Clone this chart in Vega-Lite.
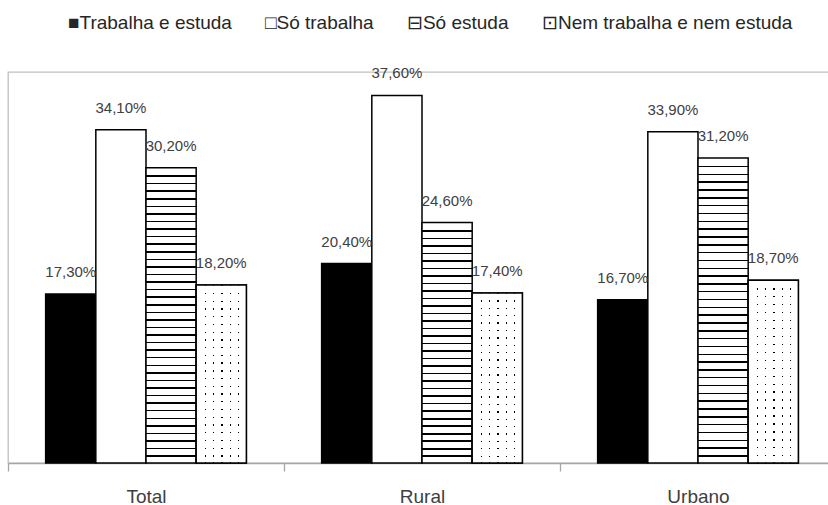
{
  "$schema": "https://vega.github.io/schema/vega-lite/v6.json",
  "width": 828,
  "height": 391,
  "autosize": "none",
  "padding": {"left": 8, "top": 72, "right": 0, "bottom": 42},
  "background": "white",
  "config": {
    "font": "Liberation Sans, DejaVu Sans",
    "view": {"stroke": "#c0c0c0", "strokeWidth": 1.3}
  },
  "data": {
    "values": [
      {"c": "Total", "s": "Trabalha e estuda", "v": 17.3, "t": "17,30%"},
      {"c": "Total", "s": "Só trabalha", "v": 34.1, "t": "34,10%"},
      {"c": "Total", "s": "Só estuda", "v": 30.2, "t": "30,20%"},
      {"c": "Total", "s": "Nem trabalha e nem estuda", "v": 18.2, "t": "18,20%"},
      {"c": "Rural", "s": "Trabalha e estuda", "v": 20.4, "t": "20,40%"},
      {"c": "Rural", "s": "Só trabalha", "v": 37.6, "t": "37,60%"},
      {"c": "Rural", "s": "Só estuda", "v": 24.6, "t": "24,60%"},
      {"c": "Rural", "s": "Nem trabalha e nem estuda", "v": 17.4, "t": "17,40%"},
      {"c": "Urbano", "s": "Trabalha e estuda", "v": 16.7, "t": "16,70%"},
      {"c": "Urbano", "s": "Só trabalha", "v": 33.9, "t": "33,90%"},
      {"c": "Urbano", "s": "Só estuda", "v": 31.2, "t": "31,20%"},
      {"c": "Urbano", "s": "Nem trabalha e nem estuda", "v": 18.7, "t": "18,70%"}
    ]
  },
  "encoding": {
    "x": {
      "field": "c", "type": "nominal", "sort": ["Total", "Rural", "Urbano"],
      "scale": {"paddingInner": 0, "paddingOuter": 0},
      "axis": {
        "title": null, "labelAngle": 0, "tickBand": "extent",
        "domainColor": "#a6a6a6", "domainWidth": 1.3, "tickColor": "#a6a6a6", "tickWidth": 1.3, "tickSize": 8,
        "labelFontSize": 19, "labelColor": "#404040", "labelPadding": 16
      }
    },
    "xOffset": {
      "field": "s", "type": "nominal",
      "sort": ["Trabalha e estuda", "Só trabalha", "Só estuda", "Nem trabalha e nem estuda"],
      "scale": {"domain": ["Trabalha e estuda", "Só trabalha", "Só estuda", "Nem trabalha e nem estuda"], "paddingInner": 0, "paddingOuter": 0.75}
    },
    "y": {"field": "v", "type": "quantitative", "scale": {"domain": [0, 40]}, "axis": null}
  },
  "layer": [
    {
      "mark": {"type": "bar", "stroke": "#000", "strokeWidth": 1.5},
      "encoding": {
        "fill": {
          "field": "s", "type": "nominal",
          "scale": {"domain": ["Trabalha e estuda", "Só trabalha", "Só estuda", "Nem trabalha e nem estuda"], "range": ["#000000", "#ffffff", "#ffffff", "#ffffff"]},
          "legend": {
            "orient": "none", "legendX": 41, "legendY": -59, "direction": "horizontal", "title": null,
            "symbolSize": 0, "symbolStrokeWidth": 0, "symbolOpacity": 0, "labelOffset": 0, "columnPadding": 14,
            "labelFontSize": 19, "labelColor": "#262626", "labelLimit": 0,
            "labelExpr": "datum.value === 'Trabalha e estuda' ? '■Trabalha e estuda' : datum.value === 'Só trabalha' ? '□Só trabalha' : datum.value === 'Só estuda' ? '⊟Só estuda' : '⊡Nem trabalha e nem estuda'"
          },
          "condition": [
            {
              "test": "datum.s === 'Só estuda' && datum.c === 'Rural'",
              "value": {"gradient": "linear", "x1": 0, "y1": 0, "x2": 0, "y2": 1, "stops": [
                {"offset": 0, "color": "#fff"},
                {"offset": 0.0313, "color": "#fff"}, {"offset": 0.0313, "color": "#000"}, {"offset": 0.038, "color": "#000"}, {"offset": 0.038, "color": "#fff"},
                {"offset": 0.0625, "color": "#fff"}, {"offset": 0.0625, "color": "#000"}, {"offset": 0.0692, "color": "#000"}, {"offset": 0.0692, "color": "#fff"},
                {"offset": 0.0938, "color": "#fff"}, {"offset": 0.0938, "color": "#000"}, {"offset": 0.1005, "color": "#000"}, {"offset": 0.1005, "color": "#fff"},
                {"offset": 0.125, "color": "#fff"}, {"offset": 0.125, "color": "#000"}, {"offset": 0.1317, "color": "#000"}, {"offset": 0.1317, "color": "#fff"},
                {"offset": 0.1563, "color": "#fff"}, {"offset": 0.1563, "color": "#000"}, {"offset": 0.163, "color": "#000"}, {"offset": 0.163, "color": "#fff"},
                {"offset": 0.1875, "color": "#fff"}, {"offset": 0.1875, "color": "#000"}, {"offset": 0.1942, "color": "#000"}, {"offset": 0.1942, "color": "#fff"},
                {"offset": 0.2188, "color": "#fff"}, {"offset": 0.2188, "color": "#000"}, {"offset": 0.2255, "color": "#000"}, {"offset": 0.2255, "color": "#fff"},
                {"offset": 0.25, "color": "#fff"}, {"offset": 0.25, "color": "#000"}, {"offset": 0.2567, "color": "#000"}, {"offset": 0.2567, "color": "#fff"},
                {"offset": 0.2813, "color": "#fff"}, {"offset": 0.2813, "color": "#000"}, {"offset": 0.288, "color": "#000"}, {"offset": 0.288, "color": "#fff"},
                {"offset": 0.3125, "color": "#fff"}, {"offset": 0.3125, "color": "#000"}, {"offset": 0.3192, "color": "#000"}, {"offset": 0.3192, "color": "#fff"},
                {"offset": 0.3438, "color": "#fff"}, {"offset": 0.3438, "color": "#000"}, {"offset": 0.3505, "color": "#000"}, {"offset": 0.3505, "color": "#fff"},
                {"offset": 0.375, "color": "#fff"}, {"offset": 0.375, "color": "#000"}, {"offset": 0.3817, "color": "#000"}, {"offset": 0.3817, "color": "#fff"},
                {"offset": 0.4063, "color": "#fff"}, {"offset": 0.4063, "color": "#000"}, {"offset": 0.413, "color": "#000"}, {"offset": 0.413, "color": "#fff"},
                {"offset": 0.4375, "color": "#fff"}, {"offset": 0.4375, "color": "#000"}, {"offset": 0.4442, "color": "#000"}, {"offset": 0.4442, "color": "#fff"},
                {"offset": 0.4688, "color": "#fff"}, {"offset": 0.4688, "color": "#000"}, {"offset": 0.4755, "color": "#000"}, {"offset": 0.4755, "color": "#fff"},
                {"offset": 0.5, "color": "#fff"}, {"offset": 0.5, "color": "#000"}, {"offset": 0.5067, "color": "#000"}, {"offset": 0.5067, "color": "#fff"},
                {"offset": 0.5313, "color": "#fff"}, {"offset": 0.5313, "color": "#000"}, {"offset": 0.538, "color": "#000"}, {"offset": 0.538, "color": "#fff"},
                {"offset": 0.5625, "color": "#fff"}, {"offset": 0.5625, "color": "#000"}, {"offset": 0.5692, "color": "#000"}, {"offset": 0.5692, "color": "#fff"},
                {"offset": 0.5938, "color": "#fff"}, {"offset": 0.5938, "color": "#000"}, {"offset": 0.6005, "color": "#000"}, {"offset": 0.6005, "color": "#fff"},
                {"offset": 0.625, "color": "#fff"}, {"offset": 0.625, "color": "#000"}, {"offset": 0.6317, "color": "#000"}, {"offset": 0.6317, "color": "#fff"},
                {"offset": 0.6563, "color": "#fff"}, {"offset": 0.6563, "color": "#000"}, {"offset": 0.663, "color": "#000"}, {"offset": 0.663, "color": "#fff"},
                {"offset": 0.6875, "color": "#fff"}, {"offset": 0.6875, "color": "#000"}, {"offset": 0.6942, "color": "#000"}, {"offset": 0.6942, "color": "#fff"},
                {"offset": 0.7188, "color": "#fff"}, {"offset": 0.7188, "color": "#000"}, {"offset": 0.7255, "color": "#000"}, {"offset": 0.7255, "color": "#fff"},
                {"offset": 0.75, "color": "#fff"}, {"offset": 0.75, "color": "#000"}, {"offset": 0.7567, "color": "#000"}, {"offset": 0.7567, "color": "#fff"},
                {"offset": 0.7813, "color": "#fff"}, {"offset": 0.7813, "color": "#000"}, {"offset": 0.788, "color": "#000"}, {"offset": 0.788, "color": "#fff"},
                {"offset": 0.8125, "color": "#fff"}, {"offset": 0.8125, "color": "#000"}, {"offset": 0.8192, "color": "#000"}, {"offset": 0.8192, "color": "#fff"},
                {"offset": 0.8438, "color": "#fff"}, {"offset": 0.8438, "color": "#000"}, {"offset": 0.8505, "color": "#000"}, {"offset": 0.8505, "color": "#fff"},
                {"offset": 0.875, "color": "#fff"}, {"offset": 0.875, "color": "#000"}, {"offset": 0.8817, "color": "#000"}, {"offset": 0.8817, "color": "#fff"},
                {"offset": 0.9063, "color": "#fff"}, {"offset": 0.9063, "color": "#000"}, {"offset": 0.913, "color": "#000"}, {"offset": 0.913, "color": "#fff"},
                {"offset": 0.9375, "color": "#fff"}, {"offset": 0.9375, "color": "#000"}, {"offset": 0.9442, "color": "#000"}, {"offset": 0.9442, "color": "#fff"},
                {"offset": 0.9688, "color": "#fff"}, {"offset": 0.9688, "color": "#000"}, {"offset": 0.9755, "color": "#000"}, {"offset": 0.9755, "color": "#fff"},
                {"offset": 1, "color": "#fff"}
              ]}
            },
            {
              "test": "datum.s === 'Só estuda'",
              "value": {"gradient": "linear", "x1": 0, "y1": 0, "x2": 0, "y2": 1, "stops": [
                {"offset": 0, "color": "#fff"},
                {"offset": 0.0256, "color": "#fff"}, {"offset": 0.0256, "color": "#000"}, {"offset": 0.0306, "color": "#000"}, {"offset": 0.0306, "color": "#fff"},
                {"offset": 0.0513, "color": "#fff"}, {"offset": 0.0513, "color": "#000"}, {"offset": 0.0563, "color": "#000"}, {"offset": 0.0563, "color": "#fff"},
                {"offset": 0.0769, "color": "#fff"}, {"offset": 0.0769, "color": "#000"}, {"offset": 0.0819, "color": "#000"}, {"offset": 0.0819, "color": "#fff"},
                {"offset": 0.1026, "color": "#fff"}, {"offset": 0.1026, "color": "#000"}, {"offset": 0.1076, "color": "#000"}, {"offset": 0.1076, "color": "#fff"},
                {"offset": 0.1282, "color": "#fff"}, {"offset": 0.1282, "color": "#000"}, {"offset": 0.1332, "color": "#000"}, {"offset": 0.1332, "color": "#fff"},
                {"offset": 0.1538, "color": "#fff"}, {"offset": 0.1538, "color": "#000"}, {"offset": 0.1588, "color": "#000"}, {"offset": 0.1588, "color": "#fff"},
                {"offset": 0.1795, "color": "#fff"}, {"offset": 0.1795, "color": "#000"}, {"offset": 0.1845, "color": "#000"}, {"offset": 0.1845, "color": "#fff"},
                {"offset": 0.2051, "color": "#fff"}, {"offset": 0.2051, "color": "#000"}, {"offset": 0.2101, "color": "#000"}, {"offset": 0.2101, "color": "#fff"},
                {"offset": 0.2308, "color": "#fff"}, {"offset": 0.2308, "color": "#000"}, {"offset": 0.2358, "color": "#000"}, {"offset": 0.2358, "color": "#fff"},
                {"offset": 0.2564, "color": "#fff"}, {"offset": 0.2564, "color": "#000"}, {"offset": 0.2614, "color": "#000"}, {"offset": 0.2614, "color": "#fff"},
                {"offset": 0.2821, "color": "#fff"}, {"offset": 0.2821, "color": "#000"}, {"offset": 0.2871, "color": "#000"}, {"offset": 0.2871, "color": "#fff"},
                {"offset": 0.3077, "color": "#fff"}, {"offset": 0.3077, "color": "#000"}, {"offset": 0.3127, "color": "#000"}, {"offset": 0.3127, "color": "#fff"},
                {"offset": 0.3333, "color": "#fff"}, {"offset": 0.3333, "color": "#000"}, {"offset": 0.3383, "color": "#000"}, {"offset": 0.3383, "color": "#fff"},
                {"offset": 0.359, "color": "#fff"}, {"offset": 0.359, "color": "#000"}, {"offset": 0.364, "color": "#000"}, {"offset": 0.364, "color": "#fff"},
                {"offset": 0.3846, "color": "#fff"}, {"offset": 0.3846, "color": "#000"}, {"offset": 0.3896, "color": "#000"}, {"offset": 0.3896, "color": "#fff"},
                {"offset": 0.4103, "color": "#fff"}, {"offset": 0.4103, "color": "#000"}, {"offset": 0.4153, "color": "#000"}, {"offset": 0.4153, "color": "#fff"},
                {"offset": 0.4359, "color": "#fff"}, {"offset": 0.4359, "color": "#000"}, {"offset": 0.4409, "color": "#000"}, {"offset": 0.4409, "color": "#fff"},
                {"offset": 0.4615, "color": "#fff"}, {"offset": 0.4615, "color": "#000"}, {"offset": 0.4665, "color": "#000"}, {"offset": 0.4665, "color": "#fff"},
                {"offset": 0.4872, "color": "#fff"}, {"offset": 0.4872, "color": "#000"}, {"offset": 0.4922, "color": "#000"}, {"offset": 0.4922, "color": "#fff"},
                {"offset": 0.5128, "color": "#fff"}, {"offset": 0.5128, "color": "#000"}, {"offset": 0.5178, "color": "#000"}, {"offset": 0.5178, "color": "#fff"},
                {"offset": 0.5385, "color": "#fff"}, {"offset": 0.5385, "color": "#000"}, {"offset": 0.5435, "color": "#000"}, {"offset": 0.5435, "color": "#fff"},
                {"offset": 0.5641, "color": "#fff"}, {"offset": 0.5641, "color": "#000"}, {"offset": 0.5691, "color": "#000"}, {"offset": 0.5691, "color": "#fff"},
                {"offset": 0.5897, "color": "#fff"}, {"offset": 0.5897, "color": "#000"}, {"offset": 0.5947, "color": "#000"}, {"offset": 0.5947, "color": "#fff"},
                {"offset": 0.6154, "color": "#fff"}, {"offset": 0.6154, "color": "#000"}, {"offset": 0.6204, "color": "#000"}, {"offset": 0.6204, "color": "#fff"},
                {"offset": 0.641, "color": "#fff"}, {"offset": 0.641, "color": "#000"}, {"offset": 0.646, "color": "#000"}, {"offset": 0.646, "color": "#fff"},
                {"offset": 0.6667, "color": "#fff"}, {"offset": 0.6667, "color": "#000"}, {"offset": 0.6717, "color": "#000"}, {"offset": 0.6717, "color": "#fff"},
                {"offset": 0.6923, "color": "#fff"}, {"offset": 0.6923, "color": "#000"}, {"offset": 0.6973, "color": "#000"}, {"offset": 0.6973, "color": "#fff"},
                {"offset": 0.7179, "color": "#fff"}, {"offset": 0.7179, "color": "#000"}, {"offset": 0.7229, "color": "#000"}, {"offset": 0.7229, "color": "#fff"},
                {"offset": 0.7436, "color": "#fff"}, {"offset": 0.7436, "color": "#000"}, {"offset": 0.7486, "color": "#000"}, {"offset": 0.7486, "color": "#fff"},
                {"offset": 0.7692, "color": "#fff"}, {"offset": 0.7692, "color": "#000"}, {"offset": 0.7742, "color": "#000"}, {"offset": 0.7742, "color": "#fff"},
                {"offset": 0.7949, "color": "#fff"}, {"offset": 0.7949, "color": "#000"}, {"offset": 0.7999, "color": "#000"}, {"offset": 0.7999, "color": "#fff"},
                {"offset": 0.8205, "color": "#fff"}, {"offset": 0.8205, "color": "#000"}, {"offset": 0.8255, "color": "#000"}, {"offset": 0.8255, "color": "#fff"},
                {"offset": 0.8462, "color": "#fff"}, {"offset": 0.8462, "color": "#000"}, {"offset": 0.8512, "color": "#000"}, {"offset": 0.8512, "color": "#fff"},
                {"offset": 0.8718, "color": "#fff"}, {"offset": 0.8718, "color": "#000"}, {"offset": 0.8768, "color": "#000"}, {"offset": 0.8768, "color": "#fff"},
                {"offset": 0.8974, "color": "#fff"}, {"offset": 0.8974, "color": "#000"}, {"offset": 0.9024, "color": "#000"}, {"offset": 0.9024, "color": "#fff"},
                {"offset": 0.9231, "color": "#fff"}, {"offset": 0.9231, "color": "#000"}, {"offset": 0.9281, "color": "#000"}, {"offset": 0.9281, "color": "#fff"},
                {"offset": 0.9487, "color": "#fff"}, {"offset": 0.9487, "color": "#000"}, {"offset": 0.9537, "color": "#000"}, {"offset": 0.9537, "color": "#fff"},
                {"offset": 0.9744, "color": "#fff"}, {"offset": 0.9744, "color": "#000"}, {"offset": 0.9794, "color": "#000"}, {"offset": 0.9794, "color": "#fff"},
                {"offset": 1, "color": "#fff"}
              ]}
            },
            {
              "test": "datum.s === 'Nem trabalha e nem estuda'",
              "value": {"gradient": "linear", "x1": 0, "y1": 0, "x2": 0, "y2": 1, "stops": [
                {"offset": 0, "color": "#fff"},
                {"offset": 0.0435, "color": "#fff"}, {"offset": 0.0435, "color": "#000"}, {"offset": 0.051, "color": "#000"}, {"offset": 0.051, "color": "#fff"},
                {"offset": 0.087, "color": "#fff"}, {"offset": 0.087, "color": "#000"}, {"offset": 0.0945, "color": "#000"}, {"offset": 0.0945, "color": "#fff"},
                {"offset": 0.1304, "color": "#fff"}, {"offset": 0.1304, "color": "#000"}, {"offset": 0.1379, "color": "#000"}, {"offset": 0.1379, "color": "#fff"},
                {"offset": 0.1739, "color": "#fff"}, {"offset": 0.1739, "color": "#000"}, {"offset": 0.1814, "color": "#000"}, {"offset": 0.1814, "color": "#fff"},
                {"offset": 0.2174, "color": "#fff"}, {"offset": 0.2174, "color": "#000"}, {"offset": 0.2249, "color": "#000"}, {"offset": 0.2249, "color": "#fff"},
                {"offset": 0.2609, "color": "#fff"}, {"offset": 0.2609, "color": "#000"}, {"offset": 0.2684, "color": "#000"}, {"offset": 0.2684, "color": "#fff"},
                {"offset": 0.3043, "color": "#fff"}, {"offset": 0.3043, "color": "#000"}, {"offset": 0.3118, "color": "#000"}, {"offset": 0.3118, "color": "#fff"},
                {"offset": 0.3478, "color": "#fff"}, {"offset": 0.3478, "color": "#000"}, {"offset": 0.3553, "color": "#000"}, {"offset": 0.3553, "color": "#fff"},
                {"offset": 0.3913, "color": "#fff"}, {"offset": 0.3913, "color": "#000"}, {"offset": 0.3988, "color": "#000"}, {"offset": 0.3988, "color": "#fff"},
                {"offset": 0.4348, "color": "#fff"}, {"offset": 0.4348, "color": "#000"}, {"offset": 0.4423, "color": "#000"}, {"offset": 0.4423, "color": "#fff"},
                {"offset": 0.4783, "color": "#fff"}, {"offset": 0.4783, "color": "#000"}, {"offset": 0.4858, "color": "#000"}, {"offset": 0.4858, "color": "#fff"},
                {"offset": 0.5217, "color": "#fff"}, {"offset": 0.5217, "color": "#000"}, {"offset": 0.5292, "color": "#000"}, {"offset": 0.5292, "color": "#fff"},
                {"offset": 0.5652, "color": "#fff"}, {"offset": 0.5652, "color": "#000"}, {"offset": 0.5727, "color": "#000"}, {"offset": 0.5727, "color": "#fff"},
                {"offset": 0.6087, "color": "#fff"}, {"offset": 0.6087, "color": "#000"}, {"offset": 0.6162, "color": "#000"}, {"offset": 0.6162, "color": "#fff"},
                {"offset": 0.6522, "color": "#fff"}, {"offset": 0.6522, "color": "#000"}, {"offset": 0.6597, "color": "#000"}, {"offset": 0.6597, "color": "#fff"},
                {"offset": 0.6957, "color": "#fff"}, {"offset": 0.6957, "color": "#000"}, {"offset": 0.7032, "color": "#000"}, {"offset": 0.7032, "color": "#fff"},
                {"offset": 0.7391, "color": "#fff"}, {"offset": 0.7391, "color": "#000"}, {"offset": 0.7466, "color": "#000"}, {"offset": 0.7466, "color": "#fff"},
                {"offset": 0.7826, "color": "#fff"}, {"offset": 0.7826, "color": "#000"}, {"offset": 0.7901, "color": "#000"}, {"offset": 0.7901, "color": "#fff"},
                {"offset": 0.8261, "color": "#fff"}, {"offset": 0.8261, "color": "#000"}, {"offset": 0.8336, "color": "#000"}, {"offset": 0.8336, "color": "#fff"},
                {"offset": 0.8696, "color": "#fff"}, {"offset": 0.8696, "color": "#000"}, {"offset": 0.8771, "color": "#000"}, {"offset": 0.8771, "color": "#fff"},
                {"offset": 0.913, "color": "#fff"}, {"offset": 0.913, "color": "#000"}, {"offset": 0.9205, "color": "#000"}, {"offset": 0.9205, "color": "#fff"},
                {"offset": 0.9565, "color": "#fff"}, {"offset": 0.9565, "color": "#000"}, {"offset": 0.964, "color": "#000"}, {"offset": 0.964, "color": "#fff"},
                {"offset": 1, "color": "#fff"}
              ]}
            }
          ]
        }
      }
    },
    {
      "transform": [{"filter": "datum.s === 'Nem trabalha e nem estuda'"}],
      "mark": {
        "type": "bar", "stroke": "#000", "strokeWidth": 1.5,
        "fill": {"gradient": "linear", "x1": 0, "y1": 0, "x2": 1, "y2": 0, "stops": [
          {"offset": 0, "color": "#fff"},
          {"offset": 0.1667, "color": "#fff"}, {"offset": 0.1667, "color": "rgba(255,255,255,0)"}, {"offset": 0.1927, "color": "rgba(255,255,255,0)"}, {"offset": 0.1927, "color": "#fff"},
          {"offset": 0.3333, "color": "#fff"}, {"offset": 0.3333, "color": "rgba(255,255,255,0)"}, {"offset": 0.3593, "color": "rgba(255,255,255,0)"}, {"offset": 0.3593, "color": "#fff"},
          {"offset": 0.5, "color": "#fff"}, {"offset": 0.5, "color": "rgba(255,255,255,0)"}, {"offset": 0.526, "color": "rgba(255,255,255,0)"}, {"offset": 0.526, "color": "#fff"},
          {"offset": 0.6667, "color": "#fff"}, {"offset": 0.6667, "color": "rgba(255,255,255,0)"}, {"offset": 0.6927, "color": "rgba(255,255,255,0)"}, {"offset": 0.6927, "color": "#fff"},
          {"offset": 0.8333, "color": "#fff"}, {"offset": 0.8333, "color": "rgba(255,255,255,0)"}, {"offset": 0.8593, "color": "rgba(255,255,255,0)"}, {"offset": 0.8593, "color": "#fff"},
          {"offset": 1, "color": "#fff"}
        ]}
      }
    },
    {
      "mark": {"type": "text", "baseline": "middle", "dy": -22, "fontSize": 15, "color": "#404040"},
      "encoding": {"text": {"field": "t", "type": "nominal"}}
    }
  ]
}
